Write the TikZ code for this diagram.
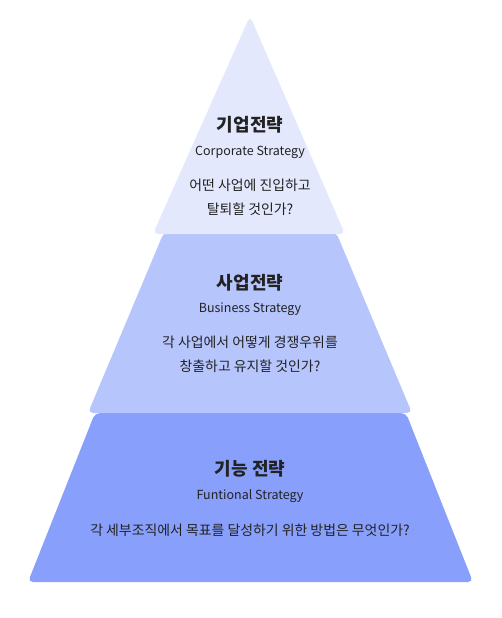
\documentclass[tikz,border=0pt]{standalone}
\usepackage{fontspec}
\setmainfont{Noto Sans CJK KR}
\usetikzlibrary{positioning}
\definecolor{layerA}{HTML}{E3E8FD}
\definecolor{layerB}{HTML}{B7C5FD}
\definecolor{layerC}{HTML}{88A0FB}
\definecolor{ink}{HTML}{222222}
\tikzset{
  layer/.style={rounded corners=5pt, draw=none},
  title/.style={font=\fontsize{18}{21}\selectfont\bfseries, text=ink},
  subtitle/.style={font=\fontsize{12.5}{15}\selectfont, text=ink},
  question/.style={font=\fontsize{13.9}{24}\selectfont, text=ink, align=center}
}
\begin{document}
\begin{tikzpicture}[x=1pt,y=-1pt]
\tikzstyle{every node}+=[inner sep=0pt]
\useasboundingbox (0,0) rectangle (501,618);
\fill [white] (0,0) rectangle (501,618);
\fill [layerC, layer] (95,413) -- (406,413) -- (473,582) -- (28,582) -- cycle;
\fill [layerB, layer] (164,232) -- (336,232) -- (412,413) -- (88,413) -- cycle;
\fill [layerA, layer] (250,16) -- (345,234) -- (153,234) -- cycle;
\node [title] (corp) at (250,125) {기업전략};
\node [subtitle] (corpen) at (250,152) {Corporate Strategy};
\node [question] (corpq) at (250,197) {어떤 사업에 진입하고\\탈퇴할 것인가?};
\node [title] (bus) at (250,283) {사업전략};
\node [subtitle] (busen) at (250,309) {Business Strategy};
\node [question] (busq) at (250,354) {각 사업에서 어떻게 경쟁우위를\\창출하고 유지할 것인가?};
\node [title] (func) at (250,469) {기능 전략};
\node [subtitle] (funcen) at (250,496) {Funtional Strategy};
\node [question] (funcq) at (250,530) {각 세부조직에서 목표를 달성하기 위한 방법은 무엇인가?};
\end{tikzpicture}
\end{document}
